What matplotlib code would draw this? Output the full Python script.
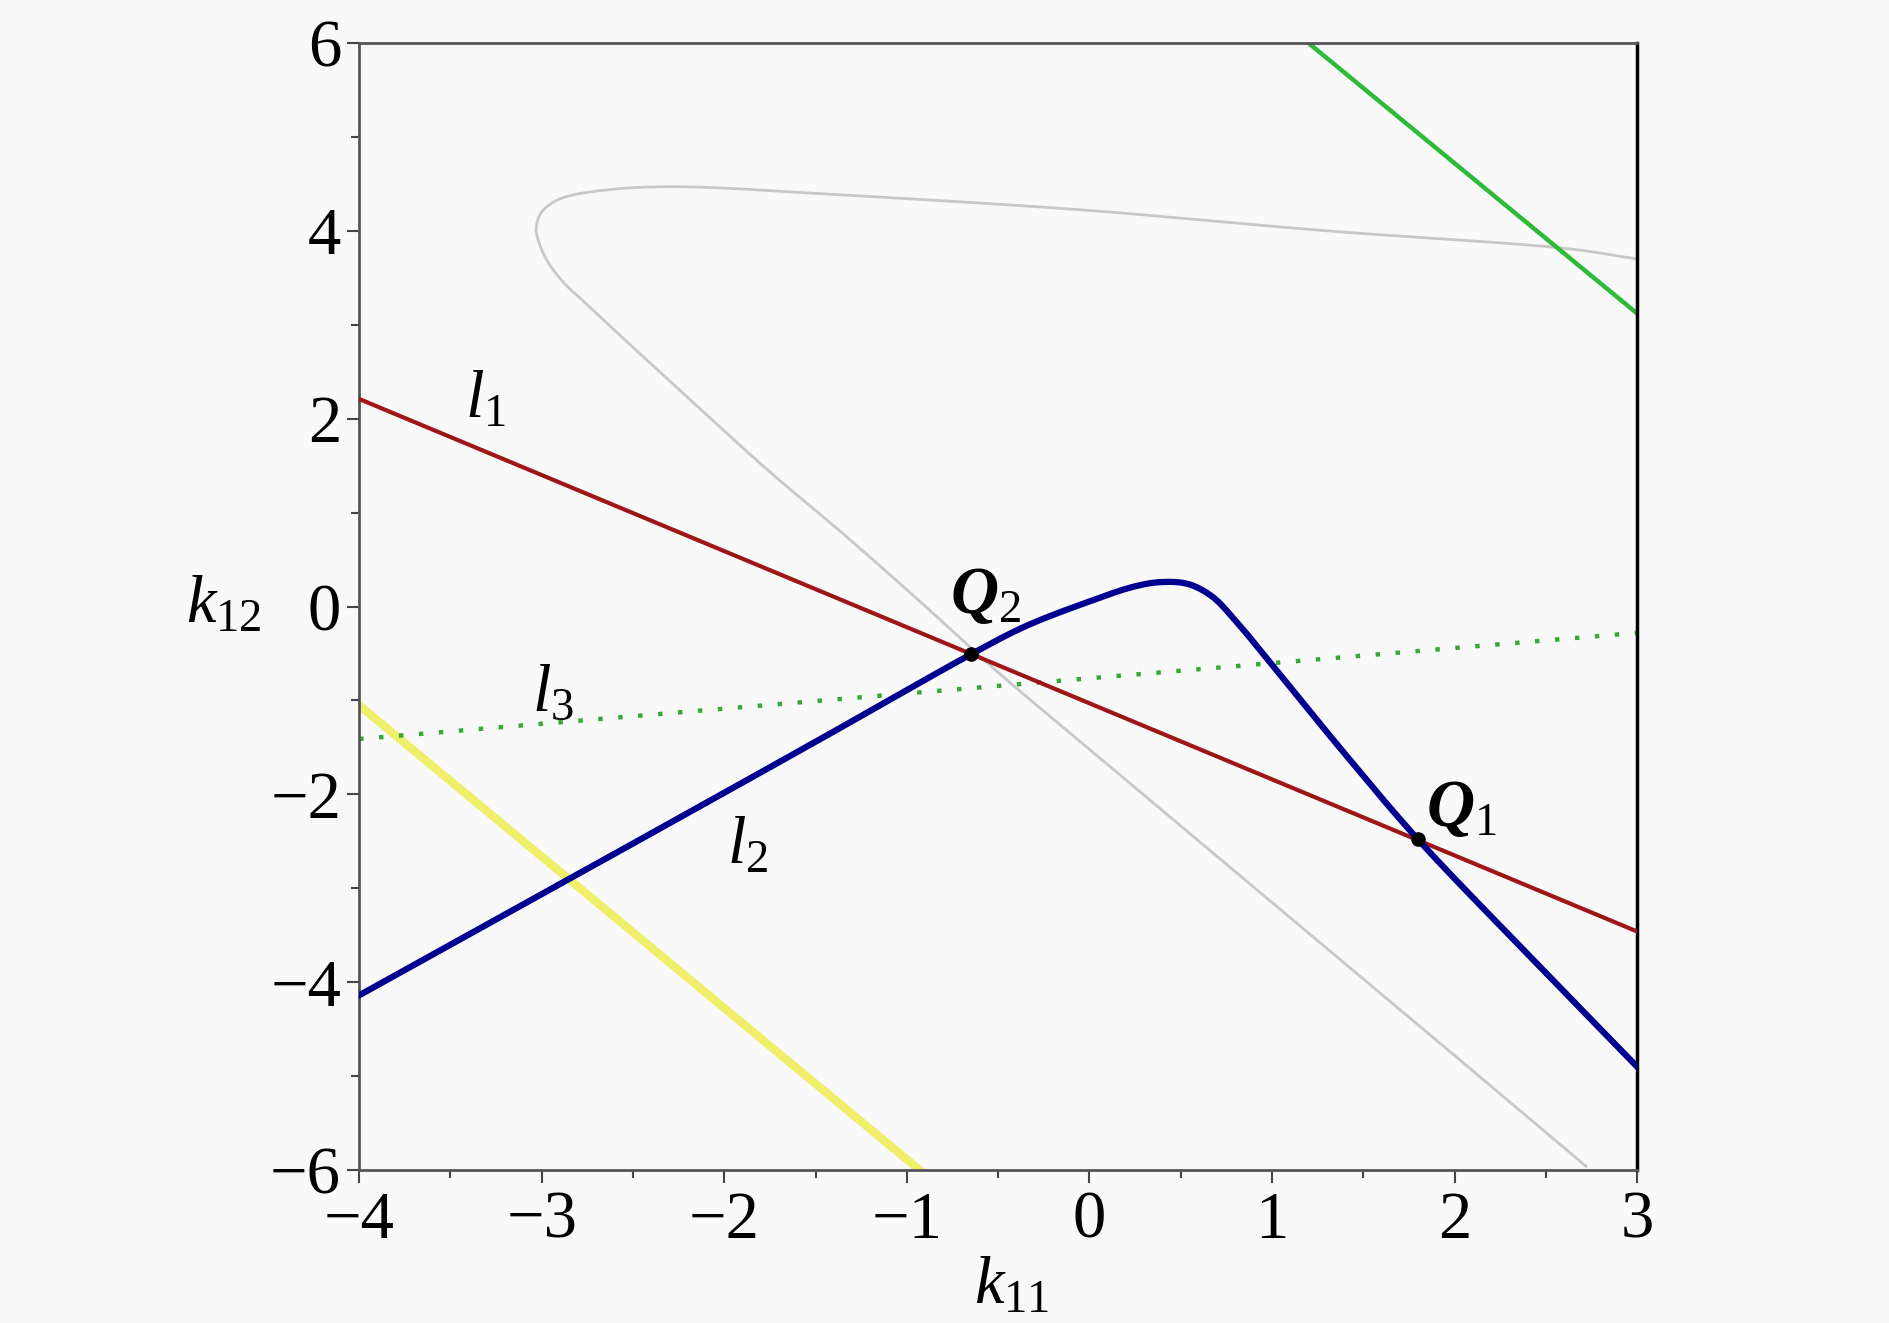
import numpy as np
import matplotlib
matplotlib.use("Agg")
import matplotlib.pyplot as plt
from matplotlib.ticker import MultipleLocator

plt.rcParams['font.family'] = ['Liberation Serif', 'DejaVu Serif']
plt.rcParams['mathtext.fontset'] = 'custom'
plt.rcParams['mathtext.rm'] = 'Liberation Serif'
plt.rcParams['mathtext.it'] = 'Liberation Serif:italic'
plt.rcParams['mathtext.bf'] = 'Liberation Serif:bold:italic'

# line l1 (red) end points
l1_x = [-4.0, 3.0]
l1_y = [2.21, -3.46]

# curve l2 (blue)
l2_x = [-4.0, -2.83, -1.5, -0.65, -0.35, -0.02, 0.24, 0.39, 0.54, 0.67, 0.80, 1.0, 1.40, 1.80, 2.40, 3.0]
l2_y = [-4.14, -2.88, -1.44, -0.51, -0.21, 0.04, 0.21, 0.26, 0.24, 0.11, -0.15, -0.62, -1.57, -2.48, -3.70, -4.90]

# line l3 (dotted green)
l3_x = [-4.0, 3.0]
l3_y = [-1.41, -0.28]

# grey curve: upper branch from right to tip, then lower branch
grey_x = [3.0, 2.62, 1.30, -0.02, -1.34, -2.28, -2.67, -2.90, -3.00, -3.03,
          -3.01, -2.96, -2.88, -2.76, -2.60, -2.18, -1.76, -1.34, -0.92, -0.50, 0.0, 1.0, 2.0, 2.72]
grey_y = [3.70, 3.81, 4.00, 4.22, 4.38, 4.47, 4.43, 4.34, 4.20, 4.02,
          3.85, 3.65, 3.45, 3.23, 2.94, 2.19, 1.45, 0.76, 0.04, -0.70, -1.52, -3.15, -4.78, -5.96]

# green solid line (top right)
green_x = [1.2, 3.0]
green_y = [6.0, 3.12]

# yellow line (bottom left)
yellow_x = [-4.0, -0.93]
yellow_y = [-1.05, -6.0]

# intersection points
q_x = [1.80, -0.65]
q_y = [-2.48, -0.51]


def smooth(xs, ys, per=30):
    # centripetal Catmull-Rom through the read points (display-space scaled)
    P = np.column_stack([np.asarray(xs) / 7.0, np.asarray(ys) / 12.0])
    P = np.vstack([2 * P[0] - P[1], P, 2 * P[-1] - P[-2]])
    out = []
    for i in range(1, len(P) - 2):
        p0, p1, p2, p3 = P[i - 1], P[i], P[i + 1], P[i + 2]
        t0 = 0.0
        t1 = t0 + np.linalg.norm(p1 - p0) ** 0.5
        t2 = t1 + np.linalg.norm(p2 - p1) ** 0.5
        t3 = t2 + np.linalg.norm(p3 - p2) ** 0.5
        for t in np.linspace(t1, t2, per, endpoint=False):
            a1 = (t1 - t) / (t1 - t0) * p0 + (t - t0) / (t1 - t0) * p1
            a2 = (t2 - t) / (t2 - t1) * p1 + (t - t1) / (t2 - t1) * p2
            a3 = (t3 - t) / (t3 - t2) * p2 + (t - t2) / (t3 - t2) * p3
            b1 = (t2 - t) / (t2 - t0) * a1 + (t - t0) / (t2 - t0) * a2
            b2 = (t3 - t) / (t3 - t1) * a2 + (t - t1) / (t3 - t1) * a3
            out.append((t2 - t) / (t2 - t1) * b1 + (t - t1) / (t2 - t1) * b2)
    out.append(P[-2])
    out = np.array(out)
    return out[:, 0] * 7.0, out[:, 1] * 12.0


fig = plt.figure(figsize=(18.9, 13.23), dpi=100, facecolor='#f9f9f9')
ax = fig.add_axes([0.1900, 0.1156, 0.6762, 0.8519])
ax.set_facecolor('#f9f9f9')

gx, gy = smooth(grey_x, grey_y)
ax.plot(gx, gy, color='#c8c8c8', lw=2.0, zorder=1)
ax.plot(yellow_x, yellow_y, color='#efef6a', lw=6, zorder=2)
ax.plot(green_x, green_y, color='#2fba3a', lw=3.2, zorder=2)
ax.plot(l3_x, l3_y, color='#33aa33', lw=3.2, linestyle=(0, (1, 3.5)), zorder=2)
ax.plot(l1_x, l1_y, color='#a01515', lw=3.0, zorder=3)
bx, by = smooth(l2_x, l2_y)
ax.plot(bx, by, color='#000090', lw=4.5, zorder=4)
ax.scatter(q_x, q_y, s=90, color='black', zorder=5)

fs = 48
ax.text(-3.31, 2.19, r'$l_{\mathrm{1}}$', fontsize=fs, ha='center', va='center')
ax.text(-1.87, -2.56, r'$l_{\mathrm{2}}$', fontsize=fs, ha='center', va='center')
ax.text(-2.94, -0.93, r'$l_{\mathrm{3}}$', fontsize=fs, ha='center', va='center')
ax.text(-0.57, 0.11, r'$\mathbf{Q}_{\mathrm{2}}$', fontsize=fs, ha='center', va='center')
ax.text(2.04, -2.16, r'$\mathbf{Q}_{\mathrm{1}}$', fontsize=fs, ha='center', va='center')

ax.set_xlim(-4, 3)
ax.set_ylim(-6, 6)
ax.xaxis.set_major_locator(MultipleLocator(1))
ax.xaxis.set_minor_locator(MultipleLocator(0.5))
ax.yaxis.set_major_locator(MultipleLocator(2))
ax.yaxis.set_minor_locator(MultipleLocator(1))
ax.tick_params(which='major', length=9, width=1.5, labelsize=fs, pad=4, color='#444444')
ax.tick_params(which='minor', length=5.5, width=1.5, color='#444444')
ax.tick_params(axis='x', which='major', pad=6)

for side in ['left', 'bottom', 'top']:
    ax.spines[side].set_color('#555555')
    ax.spines[side].set_linewidth(2)
ax.spines['right'].set_color('black')
ax.spines['right'].set_linewidth(2.5)

ax.text(0.511, -0.104, r'$k_{\mathrm{11}}$', transform=ax.transAxes, fontsize=fs,
        ha='center', va='center')
ax.text(-0.106, 0.5, r'$k_{\mathrm{12}}$', transform=ax.transAxes, fontsize=fs,
        ha='center', va='center')

fig.savefig('out.png', dpi=100, facecolor=fig.get_facecolor())
